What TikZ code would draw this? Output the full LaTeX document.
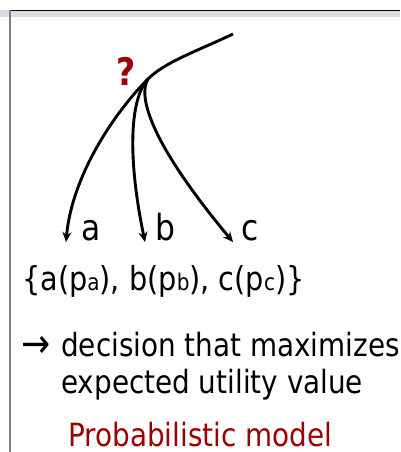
\documentclass[tikz,border=0pt]{standalone}
\usepackage{fontspec}
\setmainfont[FakeStretch=0.87]{DejaVu Sans}
\usetikzlibrary{arrows.meta}
\definecolor{dred}{HTML}{9A0000}
\definecolor{band}{HTML}{D6DCE1}
\definecolor{frameg}{HTML}{808080}
\tikzset{
  branch/.style={line width=2.9pt,-{Stealth[length=10pt,width=9pt]}},
  trunk/.style={line width=2.9pt},
  lbl/.style={anchor=base,inner sep=0pt,font=\fontsize{36}{40}\selectfont},
  txt/.style={anchor=base west,inner sep=0pt,font=\fontsize{32}{38}\selectfont}
}
\newcommand{\smallsub}[1]{{\fontsize{23}{24}\selectfont #1}}
\begin{document}
\begin{tikzpicture}[x=1pt,y=-1pt]
\useasboundingbox (0,0) rectangle (400,452);
% frame
\fill[band] (0,10.5) rectangle (400,17.5);
\draw[line width=1.5pt,black] (9,10.5) -- (400,10.5);
\draw[line width=2pt,frameg] (10,10) -- (10,452);
% decision tree
\coordinate (top) at (233,34);
\coordinate (J) at (148,79);
\coordinate (ea) at (66,242);
\coordinate (eb) at (145,242);
\coordinate (ec) at (233,242);
\draw[trunk] (top) .. controls (195,52) and (165,62) .. (J);
\draw[branch] (J) .. controls (115,112) and (72,175) .. (ea);
\draw[branch] (J) .. controls (129,100) and (128,160) .. (eb);
\draw[branch] (J) .. controls (138,95) and (148,140) .. (ec);
\node[font=\bfseries\fontsize{38}{40}\selectfont,text=dred,inner sep=0pt] (q) at (126,71) {?};
\node[lbl] (la) at (91,240) {a};
\node[lbl] (lb) at (165,240) {b};
\node[lbl] (lc) at (250,240) {c};
% text
\node[txt,font=\fontsize{33}{38}\selectfont] (set) at (22,290) {\{a(p\smallsub{a}), b(p\smallsub{b}), c(p\smallsub{c})\}};
\node[txt,font=\fontsize{40}{44}\selectfont] (arr) at (21,357) {→};
\node[txt] (l1) at (61,356) {decision that maximizes};
\node[txt] (l2) at (61,393) {expected utility value};
\node[txt,text=dred] (pm) at (68,446) {Probabilistic model};
\end{tikzpicture}
\end{document}
